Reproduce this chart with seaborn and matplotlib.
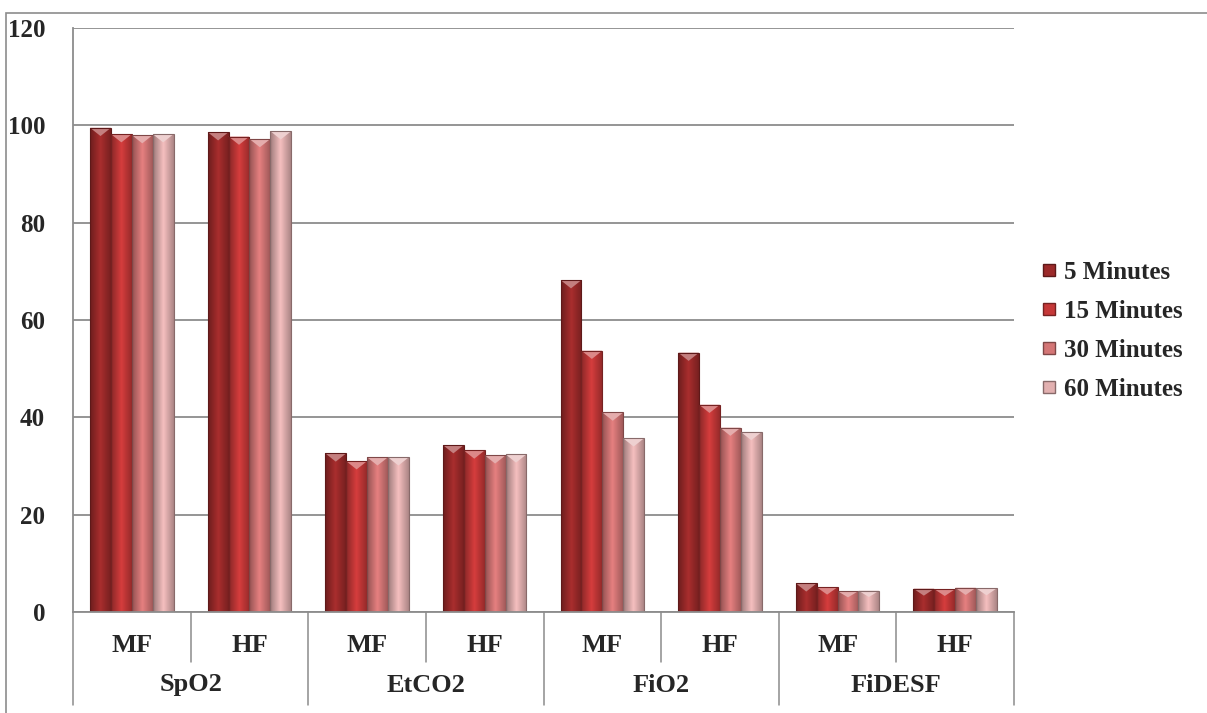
import numpy as np
import pandas as pd
import matplotlib
matplotlib.use("Agg")
import matplotlib.pyplot as plt
from matplotlib.patches import Polygon, Rectangle
from matplotlib.lines import Line2D
from matplotlib.colors import to_rgb
import seaborn as sns

# ---- data ----
parameters = ["SpO2", "EtCO2", "FiO2", "FiDESF"]
flows = ["MF", "HF"]
times = ["5 Minutes", "15 Minutes", "30 Minutes", "60 Minutes"]

# values per time point, ordered SpO2 MF, SpO2 HF, EtCO2 MF, EtCO2 HF, FiO2 MF, FiO2 HF, FiDESF MF, FiDESF HF
min5 = [99.5, 98.6, 32.6, 34.3, 68.2, 53.3, 5.9, 4.8]
min15 = [98.2, 97.7, 31.0, 33.2, 53.7, 42.6, 5.1, 4.7]
min30 = [98.0, 97.2, 31.8, 32.2, 41.0, 37.9, 4.3, 5.0]
min60 = [98.2, 98.8, 31.8, 32.4, 35.7, 37.0, 4.4, 4.9]

y_ticks = [0, 20, 40, 60, 80, 100, 120]

colors = ["#9c2a2a", "#c53838", "#d47676", "#e2b0b0"]

groups = [f"{p} {f}" for p in parameters for f in flows]
rows = []
for t, vals in zip(times, [min5, min15, min30, min60]):
    for g, v in zip(groups, vals):
        rows.append({"group": g, "time": t, "value": v})
df = pd.DataFrame(rows)

sns.set_theme(style="white")
plt.rcParams["font.family"] = ["Liberation Serif", "DejaVu Serif"]
plt.rcParams["font.weight"] = "bold"

fig = plt.figure(figsize=(12.07, 7.13), dpi=100)
ax = fig.add_axes([73 / 1207, 1 - 612 / 713, (1014 - 73) / 1207, (612 - 28) / 713])

sns.barplot(data=df, x="group", y="value", hue="time", order=groups,
            hue_order=times, palette=colors, saturation=1, width=0.71,
            errorbar=None, legend=False, ax=ax, edgecolor="none", linewidth=0)

ax.set_ylim(0, 120)
ax.set_xlim(-0.5, len(groups) - 0.5)

# cylindrical shading and bevelled tops on each bar
profile = np.concatenate([np.linspace(0.70, 1.08, 30), np.linspace(1.08, 0.76, 30)])
bars = [p for p in ax.patches if isinstance(p, Rectangle) and p.get_height() > 0]
for bar in bars:
    x0 = bar.get_x()
    w = bar.get_width()
    h = bar.get_height()
    base = np.array(to_rgb(bar.get_facecolor()))
    grad = np.clip(base[None, :] * profile[:, None], 0, 1)
    img = ax.imshow(grad[None, :, :], extent=(x0, x0 + w, 0, h), aspect="auto",
                    zorder=bar.get_zorder() + 0.1, interpolation="bilinear")
    img.set_clip_path(bar)
    # bevelled top: light triangle pointing down
    d = min(1.7, h * 0.3)
    light = np.clip(base + (1 - base) * 0.4, 0, 1)
    tri = Polygon([(x0, h), (x0 + w, h), (x0 + w / 2, h - d)], closed=True,
                  facecolor=light, edgecolor="none", zorder=bar.get_zorder() + 0.2)
    ax.add_patch(tri)
    edge = Rectangle((x0, 0), w, h, fill=False,
                     edgecolor=np.clip(base * 0.6, 0, 1), linewidth=0.8,
                     zorder=bar.get_zorder() + 0.3)
    ax.add_patch(edge)

ax.set_ylim(0, 120)
ax.set_xlim(-0.5, len(groups) - 0.5)

# grid and axes
ax.set_yticks(y_ticks)
ax.set_yticklabels([str(t) for t in y_ticks], fontsize=18, fontweight="bold",
                   fontfamily="Liberation Serif")
ax.yaxis.grid(True, color="#8c8c8c", linewidth=1.3)
ax.set_axisbelow(True)
ax.tick_params(axis="y", length=8, width=1, color="#8c8c8c", pad=12)
for s in ["top", "right"]:
    ax.spines[s].set_visible(False)
ax.spines["bottom"].set_color("#8c8c8c")
ax.spines["left"].set_color("#8c8c8c")
ax.spines["bottom"].set_linewidth(1.3)
ax.spines["left"].set_linewidth(1.3)
ax.set_xlabel("")
ax.set_ylabel("")
ax.set_xticks([])

# two-level category labels with separators
trans = ax.get_xaxis_transform()
n = len(groups)
for i in range(n + 1):
    x = i - 0.5
    bottom = -0.16 if i % 2 == 0 else -0.085
    ax.add_line(Line2D([x, x], [0, bottom], transform=trans, color="#8c8c8c",
                       linewidth=1.1, clip_on=False))
for i, g in enumerate(groups):
    ax.text(i, -0.058, g.split(" ")[1], transform=trans, ha="center", va="center",
            fontsize=19, fontweight="bold", fontfamily="Liberation Serif")
for j, p in enumerate(parameters):
    ax.text(2 * j + 0.5, -0.125, p, transform=trans, ha="center", va="center",
            fontsize=19, fontweight="bold", fontfamily="Liberation Serif")

# legend
handles = []
for c in colors:
    handles.append(Line2D([], [], marker="s", linestyle="none", markersize=9,
                          markerfacecolor=c, markeredgecolor=np.clip(np.array(to_rgb(c)) * 0.6, 0, 1)))
fig.legend(handles, times, loc="center left", bbox_to_anchor=(1018 / 1207, 1 - 331 / 713),
           frameon=False, prop={"family": "Liberation Serif", "weight": "bold", "size": 18},
           handletextpad=0.22, labelspacing=0.64, handlelength=0.7)

# outer chart frame
fig.add_artist(Rectangle((6 / 1207, -0.1), 1.2, 1.1 - 13 / 713, transform=fig.transFigure,
                         fill=False, edgecolor="#8c8c8c", linewidth=1.2))

fig.savefig("out.png", dpi=100, facecolor="white")
